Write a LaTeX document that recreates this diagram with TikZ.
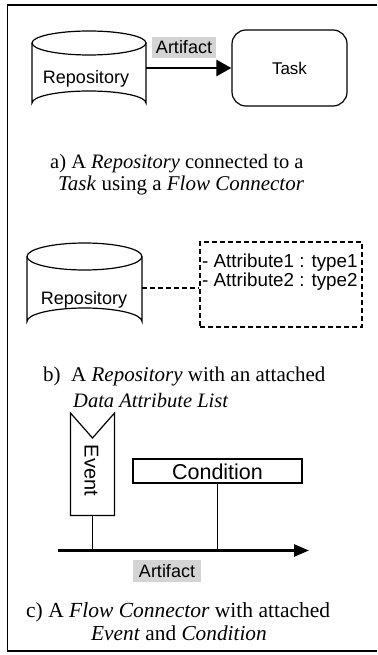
\documentclass[tikz,border=0pt]{standalone}
\usepackage{fontspec}
\setmainfont{Liberation Serif}
\setsansfont{Liberation Sans}
\usetikzlibrary{arrows.meta}
\tikzset{
  shapeline/.style={line width=1.2pt, draw=black},
  sanslabel/.style={font=\sffamily\fontsize{18}{18}\selectfont, inner sep=0pt},
  tag/.style={sanslabel, fill=black!17, inner xsep=3pt, inner ysep=3pt},
  captionline/.style={anchor=base west, inner sep=0pt},
  longdash/.style={dash pattern=on 5pt off 3pt, line width=1.2pt},
  flow/.style={line width=2.6pt, -{Triangle[length=15pt,width=16pt]}},
}
\newcommand{\capsize}[1]{\fontsize{#1}{#1}\selectfont}
\begin{document}
\begin{tikzpicture}[x=1pt, y=-1pt]
\useasboundingbox (0,0) rectangle (377,655);

% outer frame (open on the right)
\draw[line width=1.5pt] (377,5) -- (7.5,5) -- (7.5,651) -- (377,651);

% ---- a) repository, flow connector and task ----
\draw[shapeline] (32,43) arc[start angle=180, end angle=-180, x radius=57, y radius=12];
\draw[shapeline] (32,43) -- (32,103) arc[start angle=180, end angle=360, x radius=57, y radius=12] -- (146,43);
\node[sanslabel] (repoA) at (86,79) {Repository};
\coordinate (repoAout) at (146,68);
\node[shapeline, rounded corners=14pt, minimum width=115pt, minimum height=76pt, inner sep=0pt] (task) at (289.5,68) {};
\node[sanslabel, font=\sffamily\fontsize{17}{17}\selectfont] (tasktext) at (289.5,68) {Task};
\draw[flow] (repoAout) -- (task.west);
\node[tag, minimum width=64pt, minimum height=21pt] (artA) at (184,47.5) {Artifact};

\node[captionline, font=\capsize{20.5}] (capA1) at (50,168) {a) A \textit{Repository} connected to a};
\node[captionline, font=\capsize{21}] (capA2) at (58,190) {\textit{Task} using a \textit{Flow Connector}};

% ---- b) repository with a data attribute list ----
\draw[shapeline] (27,256.5) arc[start angle=180, end angle=-180, x radius=57.5, y radius=13.5];
\draw[shapeline] (27,256.5) -- (27,321.5) arc[start angle=180, end angle=360, x radius=57.5, y radius=13.5] -- (142,256.5);
\node[sanslabel] (repoB) at (84,300) {Repository};
\coordinate (repoBout) at (142,288);
\node[draw, longdash, minimum width=162pt, minimum height=85pt, inner sep=0pt] (attrs) at (281,284.5) {};
\node[sanslabel, font=\sffamily\fontsize{18.8}{18.8}\selectfont, anchor=west] (attr1) at (202,263) {- Attribute1 : type1};
\node[sanslabel, font=\sffamily\fontsize{18.8}{18.8}\selectfont, anchor=west] (attr2) at (202,282) {- Attribute2 : type2};
\draw[longdash] (repoBout) -- (repoBout -| attrs.west);

\node[captionline, font=\capsize{21}] (capB1) at (43,381) {b)\ \ A \textit{Repository} with an attached};
\node[captionline, font=\capsize{20.5}] (capB2) at (73,407) {\textit{Data Attribute List}};

% ---- c) flow connector with event and condition ----
\draw[shapeline] (70.5,413) -- (92.5,438) -- (114.5,413) -- (114.5,515.5) -- (70.5,515.5) -- cycle;
\coordinate (eventfoot) at (92.5,515.5);
\node[sanslabel, font=\sffamily\fontsize{20}{20}\selectfont, rotate=-90] (event) at (91.5,470.5) {Event};
\node[shapeline, minimum width=169pt, minimum height=24pt, inner sep=0pt] (cond) at (217.5,471) {};
\node[sanslabel, font=\sffamily\fontsize{21.5}{21.5}\selectfont] (condtext) at (217.5,471.5) {Condition};

\coordinate (flowstart) at (58,550.5);
\coordinate (flowend) at (309,550.5);
\draw[line width=2.6pt, -{Triangle[length=15pt,width=12pt]}] (flowstart) -- (flowend);
\draw[line width=1.2pt] (eventfoot) -- (eventfoot |- flowstart);
\draw[line width=1.2pt] (cond.south) -- (cond.south |- flowstart);
\node[tag, minimum width=68pt, minimum height=22pt] (artC) at (167,571) {Artifact};

\node[captionline, font=\capsize{21.5}] (capC1) at (26,617) {c) A \textit{Flow Connector} with attached};
\node[captionline, font=\capsize{21.3}] (capC2) at (91,640) {\textit{Event} and \textit{Condition}};
\end{tikzpicture}
\end{document}
